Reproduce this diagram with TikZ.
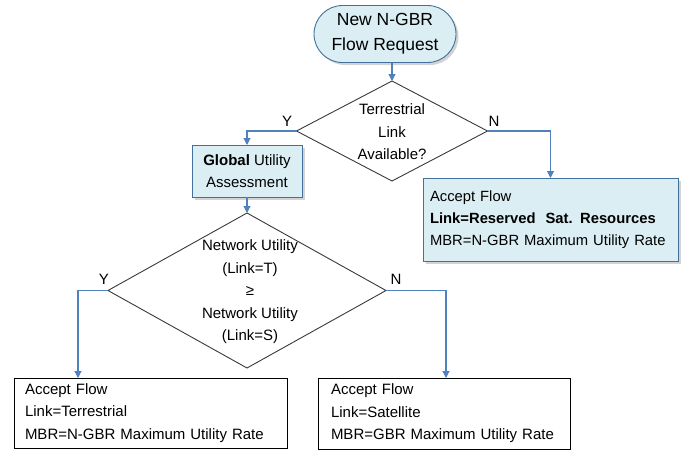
\documentclass[tikz,border=0pt]{standalone}
\usepackage{fontspec}
\setmainfont{Liberation Sans}
\usetikzlibrary{shapes.geometric,shapes.misc,arrows.meta,shadows}
\definecolor{boxfill}{HTML}{DBEEF4}
\definecolor{boxline}{HTML}{41719C}
\definecolor{arrowc}{HTML}{4F81BD}
\definecolor{diaml}{HTML}{3A3A3A}
\begin{document}
\begin{tikzpicture}[x=1pt,y=-1pt,
  every node/.style={inner sep=0pt, outer sep=0pt},
  txt/.style={font=\fontsize{15}{22.5}\selectfont},
  bluebox/.style={draw=boxline, line width=0.9pt, fill=boxfill,
    drop shadow={opacity=0.35, shadow xshift=2.5pt, shadow yshift=-2.5pt}},
  whitebox/.style={draw=black, line width=0.9pt, fill=white},
  decision/.style={diamond, draw=diaml, line width=0.9pt, fill=white},
  arr/.style={draw=arrowc, line width=1.1pt, -{Triangle[width=7pt,length=7pt]}},
  lbl/.style={font=\fontsize{15}{18}\selectfont}]
\useasboundingbox (0,0) rectangle (686,450);

% start
\node[rounded rectangle, bluebox, minimum width=142pt, minimum height=57pt,
  align=center, font=\fontsize{17.5}{25}\selectfont] (start) at (385,34)
  {New N-GBR\\Flow Request};

% decision 1
\node[decision, minimum width=191pt, minimum height=100pt] (d1) at (392,131) {};
\node[txt, align=center] (t1) at (392,132) {Terrestrial\\Link\\Available?};

% global utility box
\node[rectangle, bluebox, minimum width=110pt, minimum height=52pt, align=center,
  font=\fontsize{15}{22}\selectfont] (glob) at (247,171)
  {\textbf{Global} Utility\\Assessment};

% accept reserved
\node[rectangle, bluebox, minimum height=83pt, inner xsep=7pt,
  text width=241pt, align=left, font=\fontsize{14.8}{22}\selectfont] (acc) at (550.5,219.5)
  {Accept Flow\\\textbf{Link=Reserved\ \ Sat. Resources}\\MBR=N-GBR Maximum Utility Rate};

% decision 2
\node[decision, minimum width=278pt, minimum height=155pt] (d2) at (247,290.5) {};
\node[txt, align=center] (t2) at (250,292)
  {Network Utility\\(Link=T)\\≥\\Network Utility\\(Link=S)};

% bottom boxes
\node[rectangle, whitebox, minimum height=70pt, inner xsep=11pt,
  text width=251pt, align=left, font=\fontsize{15}{22.5}\selectfont] (bl) at (150.5,413)
  {Accept Flow\\Link=Terrestrial\\MBR=N-GBR Maximum Utility Rate};
\node[rectangle, whitebox, minimum height=71pt, inner xsep=13pt,
  text width=226pt, align=left, font=\fontsize{15}{22.5}\selectfont] (br) at (444,413.5)
  {Accept Flow\\Link=Satellite\\MBR=GBR Maximum Utility Rate};

% labels
\node[lbl] (y1) at (287,121) {Y};
\node[lbl] (n1) at (494,121) {N};
\node[lbl] (y2) at (104,279) {Y};
\node[lbl] (n2) at (396,279) {N};

% connectors
\draw[arr] (d1.north |- start.south) -- (d1.north);
\draw[arr] (d1.west) -| (glob.north);
\draw[arr] (d1.east) -| (acc.north);
\draw[arr] (glob.south) -- (d2.north);
\draw[arr] (d2.west) -| ([xshift=64pt]bl.north west);
\draw[arr] (d2.east) -| ([xshift=2pt]br.north);
\end{tikzpicture}
\end{document}
